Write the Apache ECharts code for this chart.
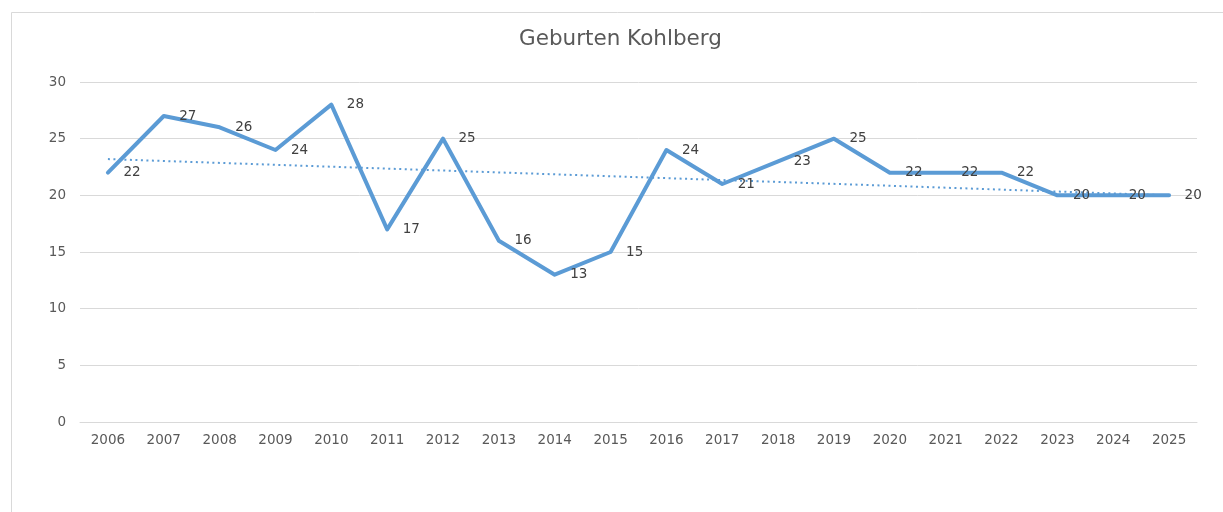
<!DOCTYPE html>
<html>
<head>
<meta charset="utf-8">
<script src="https://cdn.jsdelivr.net/npm/echarts@6/dist/echarts.min.js"></script>
<style>html,body{margin:0;padding:0;background:#fff;}#c{width:1223px;height:512px;}</style>
</head>
<body>
<div id="c"></div>
<script>
const years = ['2006','2007','2008','2009','2010','2011','2012','2013','2014','2015','2016','2017','2018','2019','2020','2021','2022','2023','2024','2025'];
const births = [22,27,26,24,28,17,25,16,13,15,24,21,23,25,22,22,22,20,20,20];
const trendStart = 23.2;
const trendEnd = 20.0;
const yTicks = [0,5,10,15,20,25,30];

const chart = echarts.init(document.getElementById('c'));
const font = '"DejaVu Sans", sans-serif';
chart.setOption({
  animation: false,
  backgroundColor: '#fff',
  graphic: [{
    type: 'rect', left: 9, top: 10,
    shape: {width: 1240, height: 520},
    style: {fill: 'none', stroke: '#d9d9d9', lineWidth: 1}
  }],
  title: {
    text: 'Geburten Kohlberg', left: 514, top: 23,
    textStyle: {fontFamily: font, fontSize: 21.5, fontWeight: 'normal', color: '#595959'}
  },
  grid: {left: 80, right: 26, top: 82, bottom: 90},
  xAxis: {
    type: 'category', data: years, boundaryGap: true,
    axisLine: {lineStyle: {color: '#d9d9d9', width: 1}},
    axisTick: {show: false},
    axisLabel: {fontFamily: font, fontSize: 13.5, color: '#595959', margin: 11, interval: 0}
  },
  yAxis: {
    type: 'value', min: yTicks[0], max: yTicks[yTicks.length-1], interval: 5,
    axisLine: {show: false}, axisTick: {show: false},
    axisLabel: {fontFamily: font, fontSize: 13.5, color: '#595959', margin: 14},
    splitLine: {lineStyle: {color: '#d9d9d9', width: 1}}
  },
  series: [{
    type: 'line', data: births, symbol: 'circle', symbolSize: 1, showSymbol: true,
    itemStyle: {color: 'rgba(0,0,0,0)'},
    lineStyle: {color: '#5B9BD5', width: 4, cap: 'round', join: 'round'},
    label: {show: true, position: 'right', distance: 15, fontFamily: font, fontSize: 13.5, color: '#404040'},
    z: 3
  }, {
    type: 'line', data: [[years[0], trendStart], [years[years.length-1], trendEnd]],
    symbol: 'none',
    lineStyle: {color: '#5B9BD5', width: 2, type: [2, 3.5]},
    z: 2
  }]
});
</script>
</body>
</html>
